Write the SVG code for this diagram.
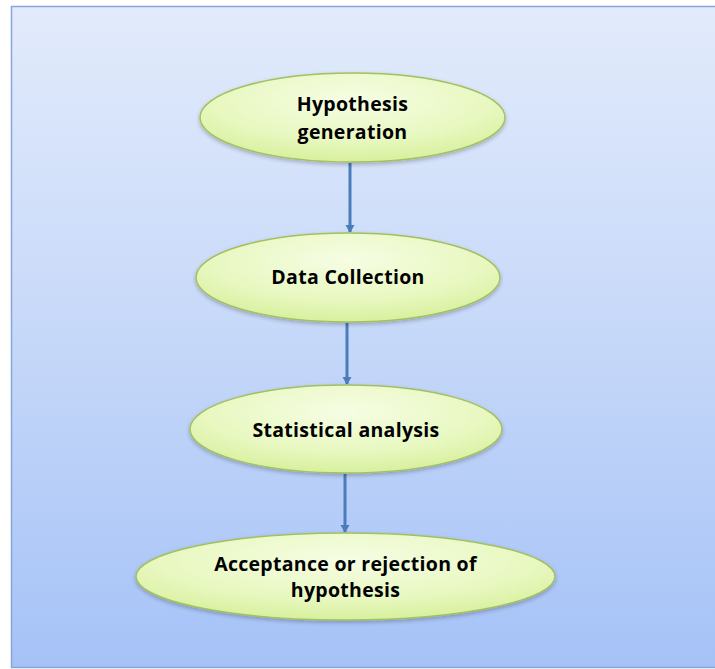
<svg xmlns="http://www.w3.org/2000/svg" width="715" height="669" viewBox="0 0 715 669">
  <defs>
    <linearGradient id="panelFill" x1="0" y1="0" x2="0" y2="1">
      <stop offset="0" stop-color="#e2ebfb"/>
      <stop offset="0.5" stop-color="#c6d8f9"/>
      <stop offset="1" stop-color="#a5c2f7"/>
    </linearGradient>
    <radialGradient id="nodeFill" cx="0.5" cy="0.3" r="0.75">
      <stop offset="0" stop-color="#f6fde4"/>
      <stop offset="0.6" stop-color="#e8f8c0"/>
      <stop offset="1" stop-color="#d4ee96"/>
    </radialGradient>
    <filter id="shadow" x="-10%" y="-20%" width="120%" height="150%">
      <feGaussianBlur in="SourceAlpha" stdDeviation="2"/>
      <feOffset dy="2" result="b"/>
      <feComponentTransfer><feFuncA type="linear" slope="0.25"/></feComponentTransfer>
      <feMerge><feMergeNode/><feMergeNode in="SourceGraphic"/></feMerge>
    </filter>
    <marker id="arrowHead" markerWidth="10" markerHeight="10" refX="7" refY="5" orient="auto" markerUnits="userSpaceOnUse">
      <path d="M0,0.5 L8,5 L0,9.5 Z" fill="#4a7dbb"/>
    </marker>
  </defs>
  <style>
    .node ellipse { fill: url(#nodeFill); stroke: #a3c060; stroke-width: 1.5; filter: url(#shadow); }
    .node text { font-family: "Open Sans", "Liberation Sans", sans-serif; font-weight: bold; font-size: 19.5px; fill: #000; text-anchor: middle; letter-spacing: 0.3px; }
    .link { stroke: #4a7dbb; stroke-width: 3; fill: none; marker-end: url(#arrowHead); }
  </style>

  <rect width="715" height="669" fill="#ffffff"/>
  <rect id="panel" x="11.5" y="6.5" width="710" height="661" fill="url(#panelFill)" stroke="#86a5dc" stroke-width="1.5"/>

  <g id="connectors">
    <path class="link" d="M350,163 L350,232"/>
    <path class="link" d="M347,323 L347,384"/>
    <path class="link" d="M345,474 L345,532"/>
  </g>

  <g id="hypothesis-generation" class="node">
    <ellipse cx="352.5" cy="117.5" rx="152.5" ry="44.5"/>
    <text x="352.5" y="111">Hypothesis</text>
    <text x="352.5" y="139">generation</text>
  </g>

  <g id="data-collection" class="node">
    <ellipse cx="348" cy="277.5" rx="152" ry="44.5"/>
    <text x="348" y="284">Data Collection</text>
  </g>

  <g id="statistical-analysis" class="node">
    <ellipse cx="346" cy="429" rx="156" ry="44"/>
    <text x="346" y="437">Statistical analysis</text>
  </g>

  <g id="acceptance-rejection" class="node">
    <ellipse cx="345.5" cy="576.5" rx="209.5" ry="43.5"/>
    <text x="345.5" y="571">Acceptance or rejection of</text>
    <text x="345.5" y="597">hypothesis</text>
  </g>
</svg>
